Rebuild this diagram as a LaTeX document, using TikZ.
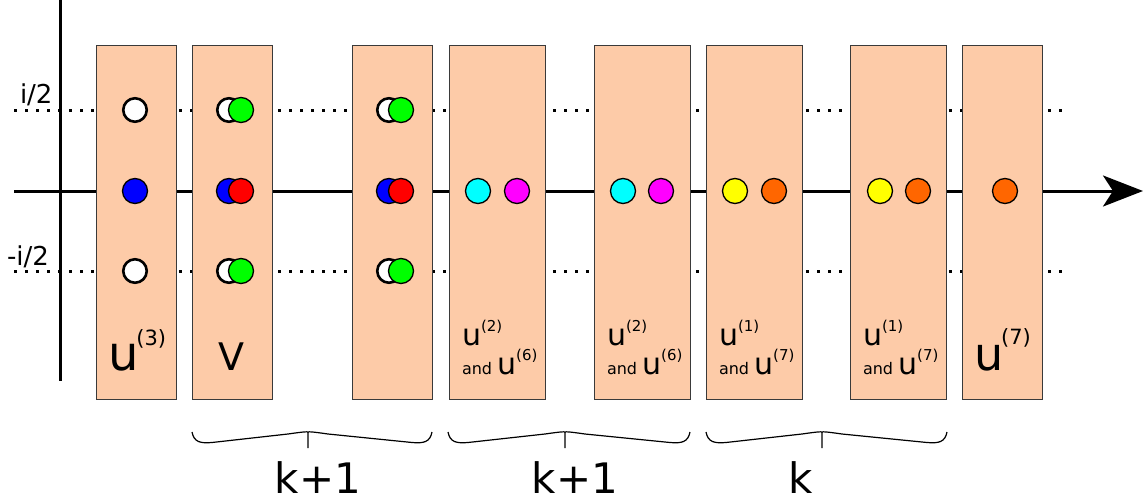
\documentclass[tikz,border=0pt]{standalone}
\usepackage{fontspec}
\setmainfont{DejaVu Sans}
\usetikzlibrary{arrows.meta}
\definecolor{peach}{HTML}{FDCBA8}
\definecolor{boxline}{HTML}{3A3A3A}
\definecolor{orng}{HTML}{FF6600}
\definecolor{aqua}{HTML}{00FFFF}
\definecolor{fuchsia}{HTML}{FF00FF}
\definecolor{lime}{HTML}{00FF00}
\definecolor{pureblue}{HTML}{0000FF}
\definecolor{purered}{HTML}{FF0000}
\definecolor{pureyellow}{HTML}{FFFF00}
\newcommand\fs[1]{\fontsize{#1}{#1}\selectfont}
% curly brace opening upwards: left end, tip, right end
\newcommand\bracebelow[3]{%
  \draw[braceline] (#1,432) .. controls (#1+2,442) and (#1+8,443.5) .. (#1+20,442.5)
    -- (#2-20,434) .. controls (#2-6,432) and (#2-1,431.5) .. (#2,432) -- (#2,448)
    (#2,432) .. controls (#2+1,431.5) and (#2+6,432) .. (#2+20,434)
    -- (#3-20,442.5) .. controls (#3-8,443.5) and (#3-2,442) .. (#3,432);}
\tikzset{
  box/.style={draw=boxline, line width=1pt, fill=peach, minimum width=#1,
    minimum height=353pt, inner sep=0pt},
  dot/.style={circle, draw=black, line width=1.3pt, fill=#1, minimum size=25pt, inner sep=0pt},
  hole/.style={circle, draw=black, line width=2.6pt, fill=white, minimum size=23.5pt, inner sep=0pt},
  axis/.style={line width=3pt},
  level/.style={line width=3pt, dash pattern=on 3pt off 8pt},
  lbl/.style={anchor=base west, inner sep=0pt, outer sep=0pt},
  braceline/.style={line width=1.2pt},
}
\begin{document}
\begin{tikzpicture}[x=1pt,y=-1pt]
\useasboundingbox (0,0) rectangle (1146,503);
% axes and reference levels
\coordinate (vt) at (60,0);
\coordinate (vb) at (60,381);
\coordinate (hl) at (14,191);
\coordinate (hr) at (1143,191);
\coordinate (ul) at (14,110);
\coordinate (ur) at (1066,110);
\coordinate (dl) at (14,271);
\coordinate (dr) at (1066,271);
\draw[axis] (vt) -- (vb);
\draw[level] (ul) -- (ur);
\draw[level] (dl) -- (dr);
\draw[axis, -{Stealth[length=40pt,width=31pt,inset=10pt]}] (hl) -- (hr);
\node[lbl] (ip) at (20,103) {\fs{26}i/2};
\node[lbl] (im) at (7,265) {\fs{26}-i/2};
% columns
\node[box=80pt] (b1) at (136,222.5) {};
\node[box=80pt] (b2) at (232,222.5) {};
\node[box=80pt] (b3) at (392.5,222.5) {};
\node[box=96pt] (b4) at (497,222.5) {};
\node[box=96pt] (b5) at (642,222.5) {};
\node[box=96pt] (b6) at (754,222.5) {};
\node[box=96pt] (b7) at (898.5,222.5) {};
\node[box=80pt] (b8) at (1002,222.5) {};
% column 1
\node[hole] (c1u) at (135,110) {};
\node[dot=pureblue] (c1m) at (135,191) {};
\node[hole] (c1d) at (135,271) {};
% column 2
\node[hole] (c2uw) at (229,110) {};
\node[dot=lime] (c2ug) at (241,110) {};
\node[dot=pureblue] (c2mb) at (229,191) {};
\node[dot=purered] (c2mr) at (241,191) {};
\node[hole] (c2dw) at (229,271) {};
\node[dot=lime] (c2dg) at (241,271) {};
% column 3
\node[hole] (c3uw) at (389,110) {};
\node[dot=lime] (c3ug) at (401,110) {};
\node[dot=pureblue] (c3mb) at (389,191) {};
\node[dot=purered] (c3mr) at (401,191) {};
\node[hole] (c3dw) at (389,271) {};
\node[dot=lime] (c3dg) at (401,271) {};
% columns 4 to 8
\node[dot=aqua] (c4c) at (478,191) {};
\node[dot=fuchsia] (c4m) at (517,191) {};
\node[dot=aqua] (c5c) at (623,191) {};
\node[dot=fuchsia] (c5m) at (661,191) {};
\node[dot=pureyellow] (c6y) at (735,191) {};
\node[dot=orng] (c6o) at (774,191) {};
\node[dot=pureyellow] (c7y) at (880,191) {};
\node[dot=orng] (c7o) at (918,191) {};
\node[dot=orng] (c8o) at (1005,191) {};
% column labels
\node[lbl] (t1) at (108,370) {\fs{48}u\kern-2pt\raisebox{25pt}{\fs{21}(3)}};
\node[lbl] (t2) at (218,370) {\fs{38}V};
\node[lbl] (t4a) at (462,345) {\fs{30}u\raisebox{14pt}{\fs{15}(2)}};
\node[lbl] (t4b) at (462,374) {\fs{16}and \fs{30}u\raisebox{14pt}{\fs{15}(6)}};
\node[lbl] (t5a) at (607,345) {\fs{30}u\raisebox{14pt}{\fs{15}(2)}};
\node[lbl] (t5b) at (607,374) {\fs{16}and \fs{30}u\raisebox{14pt}{\fs{15}(6)}};
\node[lbl] (t6a) at (719,345) {\fs{30}u\raisebox{14pt}{\fs{15}(1)}};
\node[lbl] (t6b) at (719,374) {\fs{16}and \fs{30}u\raisebox{14pt}{\fs{15}(7)}};
\node[lbl] (t7a) at (863,345) {\fs{30}u\raisebox{14pt}{\fs{15}(1)}};
\node[lbl] (t7b) at (863,374) {\fs{16}and \fs{30}u\raisebox{14pt}{\fs{15}(7)}};
\node[lbl] (t8) at (974,370) {\fs{46}u\kern-2pt\raisebox{26pt}{\fs{21}(7)}};
% group braces
\bracebelow{192}{308}{432}
\bracebelow{448}{565}{690}
\bracebelow{706}{822}{947}
\node[anchor=base, inner sep=0pt] (k1) at (318,493) {\fs{42}k+1};
\node[anchor=base, inner sep=0pt] (k2) at (575,493) {\fs{42}k+1};
\node[anchor=base, inner sep=0pt] (k3) at (801,493) {\fs{42}k};
\end{tikzpicture}
\end{document}
